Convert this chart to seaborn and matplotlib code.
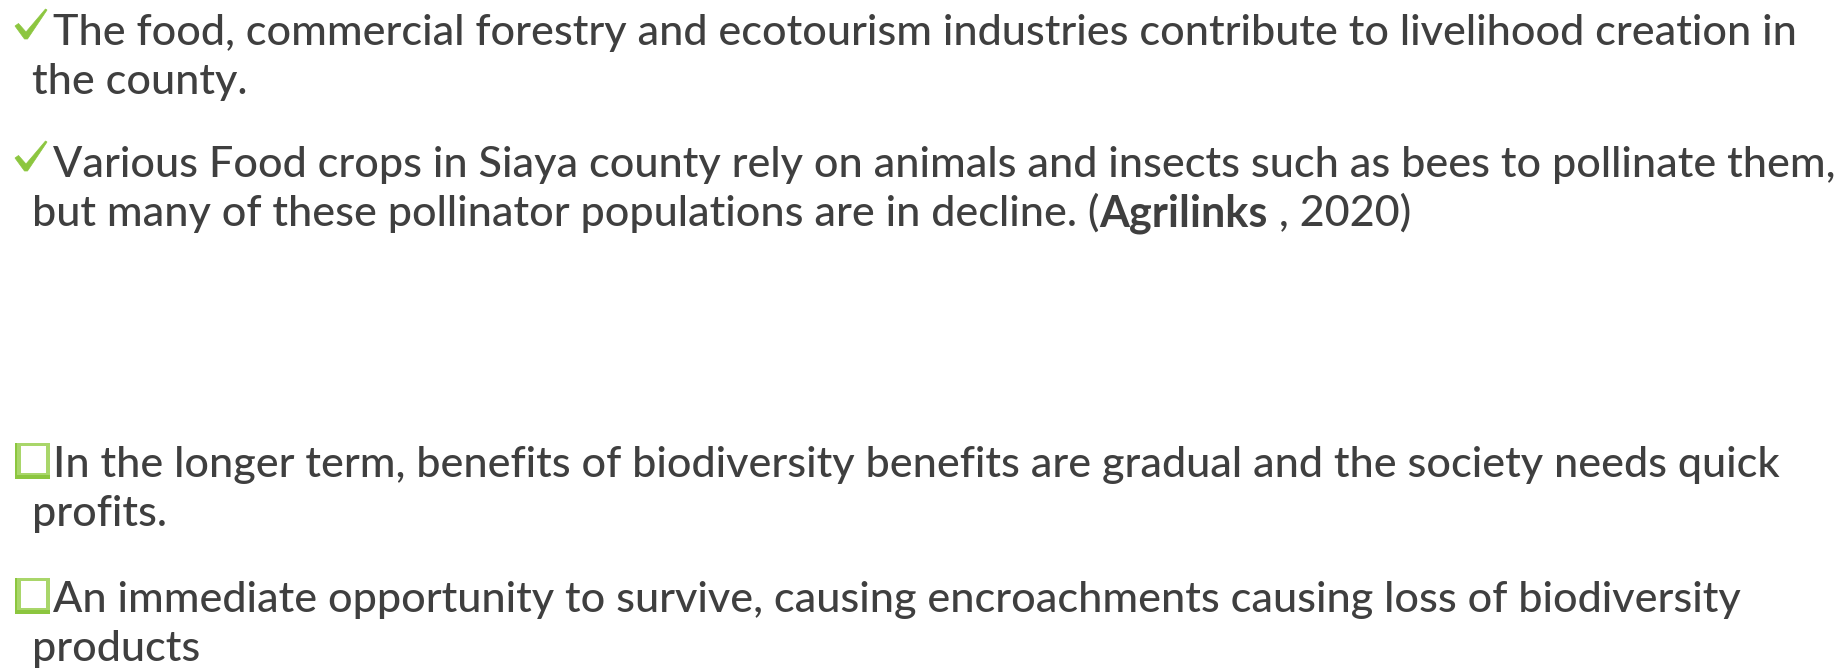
import matplotlib
matplotlib.use("Agg")
import matplotlib.pyplot as plt
from matplotlib.patches import Rectangle, Polygon
import seaborn as sns

sns.set_theme(style="white")
plt.rcParams["font.family"] = ["Lato", "DejaVu Sans"]

TEXT_COLOR = "#3F3F3F"
GREEN = "#8CC63F"
GREEN_LIGHT = "#A9D66A"

# Bullet paragraphs: kind, list of lines, each line a list of (text, bold) runs
para_kinds = ["check", "check", "square", "square"]
para_lines = [
    [[("The food, commercial forestry and ecotourism industries contribute to livelihood creation in", False)],
     [("the county.", False)]],
    [[("Various Food crops in Siaya county rely on animals and insects such as bees to pollinate them,", False)],
     [("but many of these pollinator populations are in decline. (", False), ("Agrilinks", True), (" , 2020)", False)]],
    [[("In the longer term, benefits of biodiversity benefits are gradual and the society needs quick", False)],
     [("profits.", False)]],
    [[("An immediate opportunity to survive, causing encroachments causing loss of biodiversity", False)],
     [("products", False)]],
]
# baselines (px from top) of the first line of each paragraph
para_baselines = [45, 177, 477, 612]
LINE_GAP = 49
FIRST_X = 53
WRAP_X = 32

fig = plt.figure(figsize=(18.4, 6.7), dpi=100)
ax = fig.add_axes([0, 0, 1, 1])
ax.set_xlim(0, 1840)
ax.set_ylim(670, 0)
ax.axis("off")
fig.canvas.draw()
renderer = fig.canvas.get_renderer()

# fit font size so the first line spans the same width as in the reference
probe = ax.text(0, 0, para_lines[0][0][0][0], fontsize=30, va="baseline", fontweight=500)
w = probe.get_window_extent(renderer).width
probe.remove()
FS = 30 * (1793 - FIRST_X) / w


def draw_line(x, y, runs):
    for txt, bold in runs:
        t = ax.text(x, y, txt, fontsize=FS, va="baseline", ha="left",
                    color=TEXT_COLOR, fontweight="bold" if bold else 500)
        x += t.get_window_extent(renderer).width


def check_mark(yb):
    pts = [(15, yb - 19), (18.5, yb - 21.5), (26, yb - 13),
           (45.5, yb - 36), (47, yb - 35), (27.5, yb - 6), (24.5, yb - 6)]
    ax.add_patch(Polygon(pts, closed=True, facecolor=GREEN, edgecolor=GREEN, lw=0.5))


def square_bullet(yb):
    top = yb - 34
    ax.add_patch(Rectangle((15, top), 35, 36, facecolor=GREEN, edgecolor="none"))
    ax.add_patch(Rectangle((17, top), 33, 32, facecolor=GREEN_LIGHT, edgecolor="none"))
    ax.add_patch(Rectangle((21, top + 3), 25, 27, facecolor="white", edgecolor="none"))


for kind, lines, yb in zip(para_kinds, para_lines, para_baselines):
    for i, runs in enumerate(lines):
        draw_line(FIRST_X if i == 0 else WRAP_X, yb + i * LINE_GAP, runs)
    if kind == "check":
        check_mark(yb)
    else:
        square_bullet(yb)

fig.savefig("out.png", dpi=100, facecolor="white")
